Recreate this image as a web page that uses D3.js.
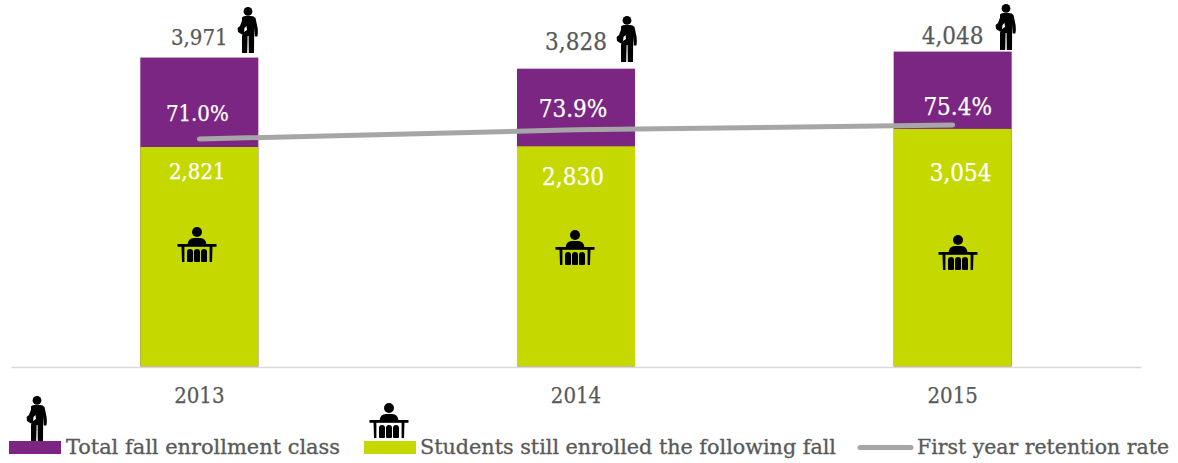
<!DOCTYPE html>
<html><head><meta charset="utf-8">
<script src="https://cdn.jsdelivr.net/npm/d3@7/dist/d3.min.js"></script>
<style>html,body{margin:0;background:#fff}svg{display:block}text{font-family:"DejaVu Serif Condensed","DejaVu Serif","Liberation Serif",serif}</style>
</head><body><svg id="c" width="1178" height="463"></svg>
<script>
const years=["2013","2014","2015"];
const enrolled=[3971,3828,4048];
const retained=[2821,2830,3054];
const rates=[71.0,73.9,75.4];
const legendLabels=["Total fall enrollment class","Students still enrolled the following fall","First year retention rate"];
const C={purple:"#7b2682",green:"#c5d800",grey:"#a6a6a6",axis:"#d9d9d9",text:"#595959"};

const svg=d3.select("#c");
const x=d3.scaleBand().domain(years).range([11,1141]).paddingInner(0.6867).paddingOuter(0.3433);
const y=d3.scaleLinear().domain([0,4700]).range([366.5,366.5-4700*0.0778]);
const yR=d3.scaleLinear().domain([71,75.4]).range([139,125]);
const cx=d=>x(d)+x.bandwidth()/2;

const defs=svg.append("defs");
const person=defs.append("g").attr("id","person");
person.append("circle").attr("cx",0).attr("cy",4.4).attr("r",4.4);
person.append("path").attr("d","M-6,10.5 Q-5,9 -3,9 L3,9 Q6,9 7.5,11 L9.6,21 Q10.2,26 9.4,29.5 L6.8,29.5 L6.2,20 L6,46 L0.8,46 L0.6,29 L-0.4,29 L-0.8,46 L-6,46 L-6,29 L-5.4,27 Z");
person.append("path").attr("d","M-5,11 L-1,12 L-2,16 L0,20 L-1,26 L-6,27.5 L-10,25 L-10.4,21 L-8,19 Z");
person.append("path").attr("d","M-3.5,21 L-1.5,19 L-1,23 L-4,25 Z").attr("fill","#fff");
const desk=defs.append("g").attr("id","desk");
desk.append("circle").attr("cx",0).attr("cy",5).attr("r",5);
desk.append("path").attr("d","M-9.5,18 Q-9,11 -3,11 L3,11 Q9,11 9.5,18 Z");
desk.append("rect").attr("x",-19.5).attr("y",17).attr("width",39).attr("height",2.8);
desk.append("path").attr("d","M-15.5,19 L-12.6,19 L-12.6,35 L-15,35 Z M15.5,19 L12.6,19 L12.6,35 L15,35 Z");
desk.append("path").attr("d","M-10,25 Q-10,22 -7,22 Q-4,22 -4,25 L-4,34 Q-4,35 -5,35 L-9,35 Q-10,35 -10,34 Z");
desk.append("path").attr("d","M-3,25 Q-3,22 0,22 Q3,22 3,25 L3,34 Q3,35 2,35 L-2,35 Q-3,35 -3,34 Z");
desk.append("path").attr("d","M4,25 Q4,22 7,22 Q10,22 10,25 L10,34 Q10,35 9,35 L5,35 Q4,35 4,34 Z");

svg.append("g").selectAll("rect.e").data(years).join("rect").attr("class","e")
 .attr("x",d=>x(d)).attr("width",x.bandwidth())
 .attr("y",(d,i)=>y(enrolled[i])).attr("height",(d,i)=>y(0)-y(enrolled[i])).attr("fill",C.purple);
svg.append("g").selectAll("rect.r").data(years).join("rect").attr("class","r")
 .attr("x",d=>x(d)).attr("width",x.bandwidth())
 .attr("y",(d,i)=>y(retained[i])).attr("height",(d,i)=>y(0)-y(retained[i])).attr("fill",C.green);

const axis=d3.axisBottom(x).tickSize(0).tickPadding(20);
const ag=svg.append("g").attr("transform","translate(0,367)").call(axis);
ag.select(".domain").attr("stroke",C.axis).attr("stroke-width",1.6);
ag.selectAll("text").attr("font-size",22).attr("fill",C.text).attr("stroke",C.text).attr("stroke-width",0.25).style("font-family",null);

const line=d3.line().x((d,i)=>cx(years[i])).y(d=>yR(d));
svg.append("path").datum(rates).attr("d",line).attr("fill","none").attr("stroke",C.grey).attr("stroke-width",5).attr("stroke-linecap","round");

const fmt=d3.format(",");
const sizes=[22,24,24];
const labels=(data,dx,ys,col,f)=>svg.append("g").selectAll("text").data(data).join("text")
 .attr("x",(d,i)=>cx(years[i])+dx[i]).attr("y",(d,i)=>ys[i]).attr("text-anchor","middle")
 .attr("font-size",(d,i)=>sizes[i]).attr("fill",col).attr("stroke",col).attr("stroke-width",0.25).text(f);
labels(enrolled,[0,0,0],[45,50,44],C.text,d=>fmt(d));
labels(retained,[-2,-3,8],[179,185,181],"#fff",d=>fmt(d));
labels(rates,[-2,-3,5],[121,117,115],"#fff",d=>d.toFixed(1)+"%");

const use=(id,px,py)=>svg.append("use").attr("href","#"+id).attr("x",px).attr("y",py);
[[248,7],[627,16],[1006,4]].forEach(p=>use("person",p[0],p[1]));
[[197,227],[575,230],[958,235]].forEach(p=>use("desk",p[0],p[1]));
use("person",37,396); use("desk",389,403);

const lg=svg.append("g");
lg.append("rect").attr("x",9).attr("y",441).attr("width",52).attr("height",13).attr("fill",C.purple);
lg.append("rect").attr("x",364).attr("y",441).attr("width",52).attr("height",13).attr("fill",C.green);
lg.append("line").attr("x1",860).attr("x2",911).attr("y1",447.5).attr("y2",447.5).attr("stroke",C.grey).attr("stroke-width",5).attr("stroke-linecap","round");
[[66,274],[420,416],[917,252]].forEach((p,i)=>lg.append("text").attr("x",p[0]).attr("y",454).attr("font-size",21).attr("fill",C.text).attr("stroke",C.text).attr("stroke-width",0.3).attr("textLength",p[1]).attr("lengthAdjust","spacingAndGlyphs").text(legendLabels[i]));
</script></body></html>
